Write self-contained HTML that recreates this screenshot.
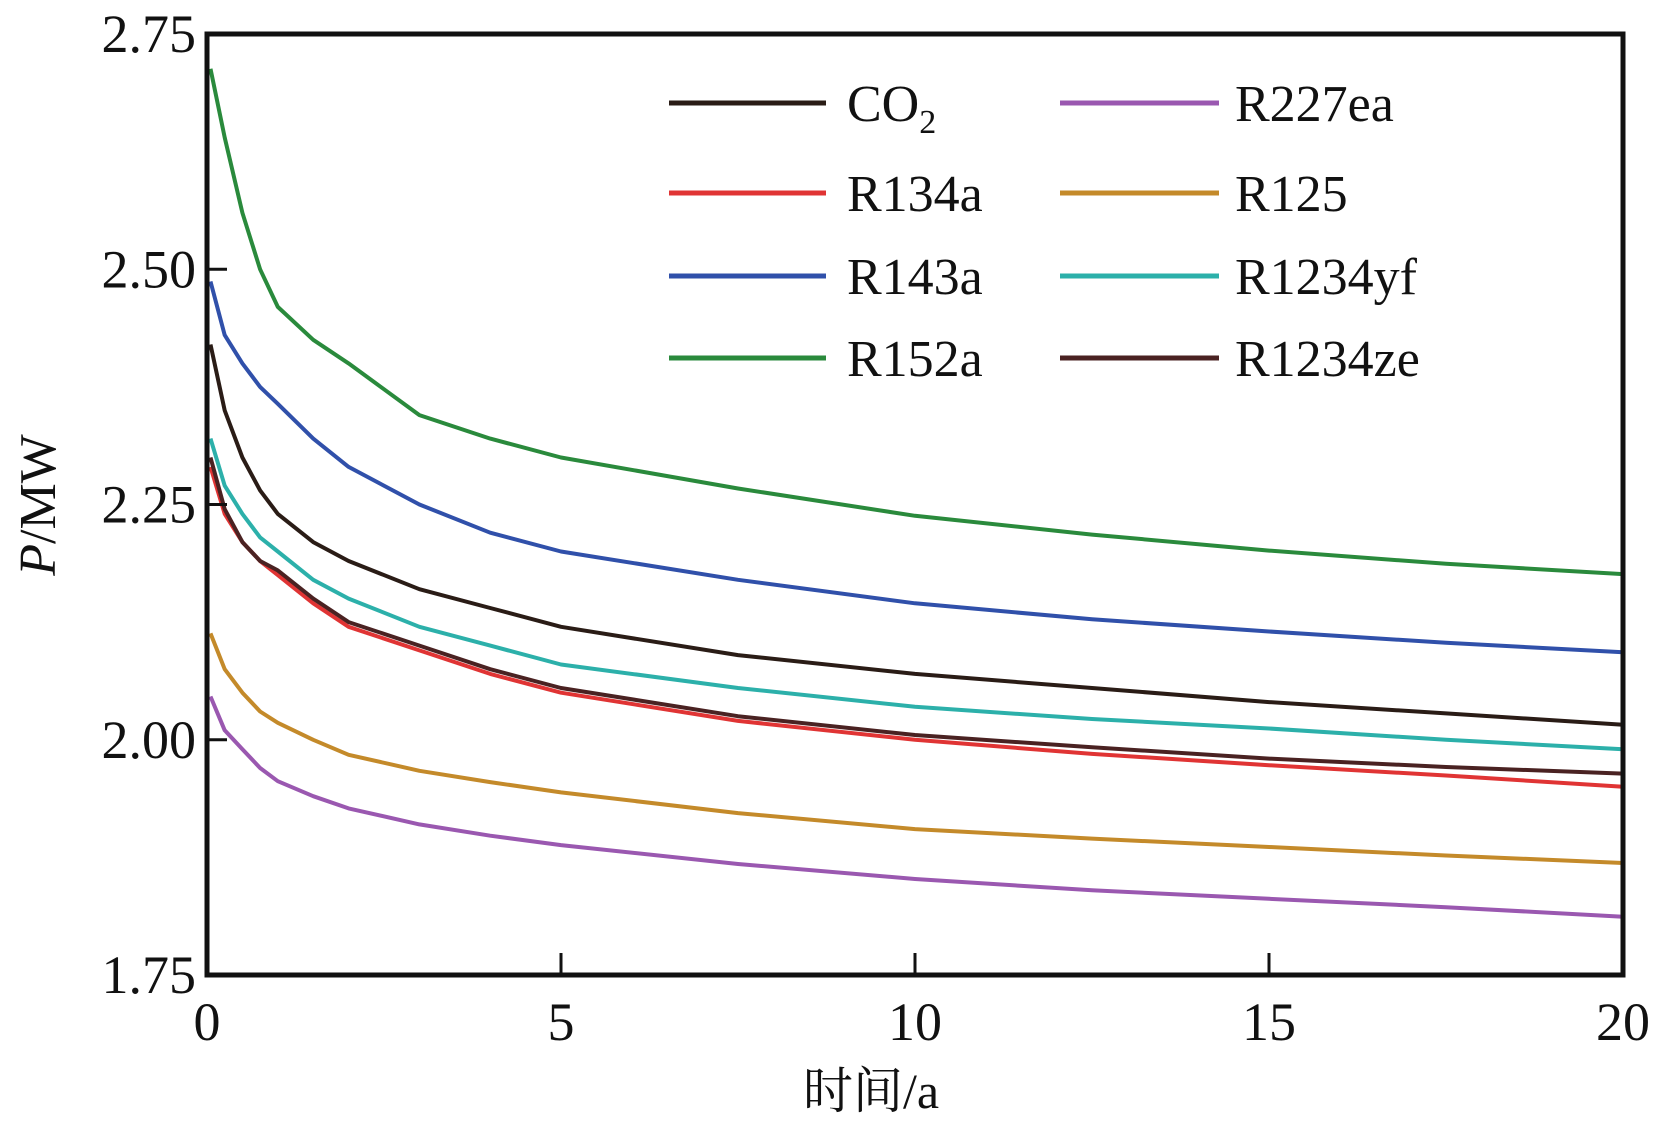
<!DOCTYPE html>
<html><head><meta charset="utf-8"><style>
html,body{margin:0;padding:0;background:#fff;}
svg{display:block;}
text{font-family:"Liberation Serif","Noto Serif CJK SC",serif;fill:#111;}
</style></head><body>
<svg id="chart" width="1665" height="1130" viewBox="0 0 1665 1130" xmlns="http://www.w3.org/2000/svg">
<g id="series"></g>
<g id="axes"></g>
<g id="legend"></g>
</svg>
<script>
const xs = [0.05,0.25,0.5,0.75,1,1.5,2,3,4,5,7.5,10,12.5,15,17.5,20];
const seriesNames = ["CO2","R134a","R143a","R152a","R227ea","R125","R1234yf","R1234ze"];
const seriesColors = ["#2a1c16","#e03434","#3050aa","#2a8a3c","#9a58b0","#c48a2a","#2cb0aa","#4a2222"];
const vCO2    = [2.42,2.35,2.30,2.265,2.24,2.21,2.19,2.16,2.14,2.12,2.09,2.07,2.055,2.04,2.028,2.016];
const vR134a  = [2.29,2.24,2.21,2.19,2.175,2.145,2.12,2.095,2.07,2.05,2.02,2.00,1.985,1.973,1.962,1.950];
const vR143a  = [2.487,2.43,2.40,2.375,2.357,2.32,2.29,2.25,2.22,2.20,2.17,2.145,2.128,2.115,2.103,2.093];
const vR152a  = [2.713,2.64,2.56,2.50,2.46,2.425,2.40,2.345,2.32,2.30,2.267,2.238,2.218,2.201,2.187,2.176];
const vR227ea = [2.046,2.01,1.99,1.97,1.956,1.94,1.927,1.91,1.898,1.888,1.868,1.852,1.840,1.831,1.822,1.812];
const vR125   = [2.113,2.075,2.05,2.03,2.018,2.0,1.984,1.967,1.955,1.944,1.922,1.905,1.895,1.886,1.877,1.869];
const vR1234yf= [2.32,2.27,2.24,2.215,2.20,2.17,2.15,2.12,2.10,2.08,2.055,2.035,2.022,2.012,2.000,1.990];
const vR1234ze= [2.30,2.245,2.21,2.19,2.18,2.15,2.125,2.10,2.075,2.055,2.025,2.005,1.992,1.980,1.971,1.964];
const allValues = [vCO2,vR134a,vR143a,vR152a,vR227ea,vR125,vR1234yf,vR1234ze];
const yTicks = [1.75,2.00,2.25,2.50,2.75];
const yTickLabels = ["1.75","2.00","2.25","2.50","2.75"];
const xTicks = [0,5,10,15,20];
const xTickLabels = ["0","5","10","15","20"];

const L=207,R=1623,T=34,B=975;
const X=v=>L+(v-0)/(20-0)*(R-L);
const Y=v=>B-(v-1.75)/(2.75-1.75)*(B-T);
const NS="http://www.w3.org/2000/svg";
function mk(tag,attrs,parent){const e=document.createElementNS(NS,tag);for(const k in attrs)e.setAttribute(k,attrs[k]);parent.appendChild(e);return e;}
const gS=document.getElementById('series'),gA=document.getElementById('axes'),gL=document.getElementById('legend');

allValues.forEach((vals,i)=>{
  const d=vals.map((v,j)=>(j?'L':'M')+X(xs[j]).toFixed(1)+','+Y(v).toFixed(1)).join(' ');
  const p=mk('path',{d:d,fill:'none',stroke:seriesColors[i],'stroke-width':4,'stroke-linejoin':'round'},gS);
  
  
});

const frame=mk('rect',{x:L,y:T,width:R-L,height:B-T,fill:'none',stroke:'#111','stroke-width':5},gA);



yTicks.forEach((v,i)=>{
  if(i>0&&i<yTicks.length-1){
    const t=mk('line',{x1:L,x2:L+20,y1:Y(v),y2:Y(v),stroke:'#111','stroke-width':3},gA);
    
    
  }
  const tx=mk('text',{x:196,y:Y(v)+18,'text-anchor':'end','font-size':54},gA);
  tx.textContent=yTickLabels[i];
  
  
});
xTicks.forEach((v,i)=>{
  if(i>0&&i<xTicks.length-1){
    const t=mk('line',{x1:X(v),x2:X(v),y1:B,y2:B-22,stroke:'#111','stroke-width':3},gA);
    
    
  }
  const tx=mk('text',{x:X(v),y:1040,'text-anchor':'middle','font-size':54},gA);
  tx.textContent=xTickLabels[i];
  
  
});
const xt=mk('text',{x:871,y:1108,'text-anchor':'middle','font-size':50},gA);
xt.textContent='时间/a';


const yt=mk('text',{x:0,y:0,'text-anchor':'middle','font-size':52,transform:'translate(55,505) rotate(-90)'},gA);
yt.innerHTML='<tspan font-style="italic">P</tspan>/MW';



const rowsY=[103,193,276,358];
const legendOrder=[0,1,2,3,4,5,6,7];
legendOrder.forEach((si,k)=>{
  const col=Math.floor(k/4),row=k%4;
  const x1=col?1060:669,x2=col?1219:826,tx=col?1235:847,y=rowsY[row];
  const g=mk('g',{},gL);
  
  
  mk('line',{x1:x1,x2:x2,y1:y,y2:y,stroke:seriesColors[si],'stroke-width':5},g);
  const t=mk('text',{x:tx,y:y+18,'font-size':52},g);
  if(seriesNames[si]==='CO2'){t.innerHTML='CO<tspan font-size="34" dy="12">2</tspan>';}
  else t.textContent=seriesNames[si];
});
</script>
</body></html>
